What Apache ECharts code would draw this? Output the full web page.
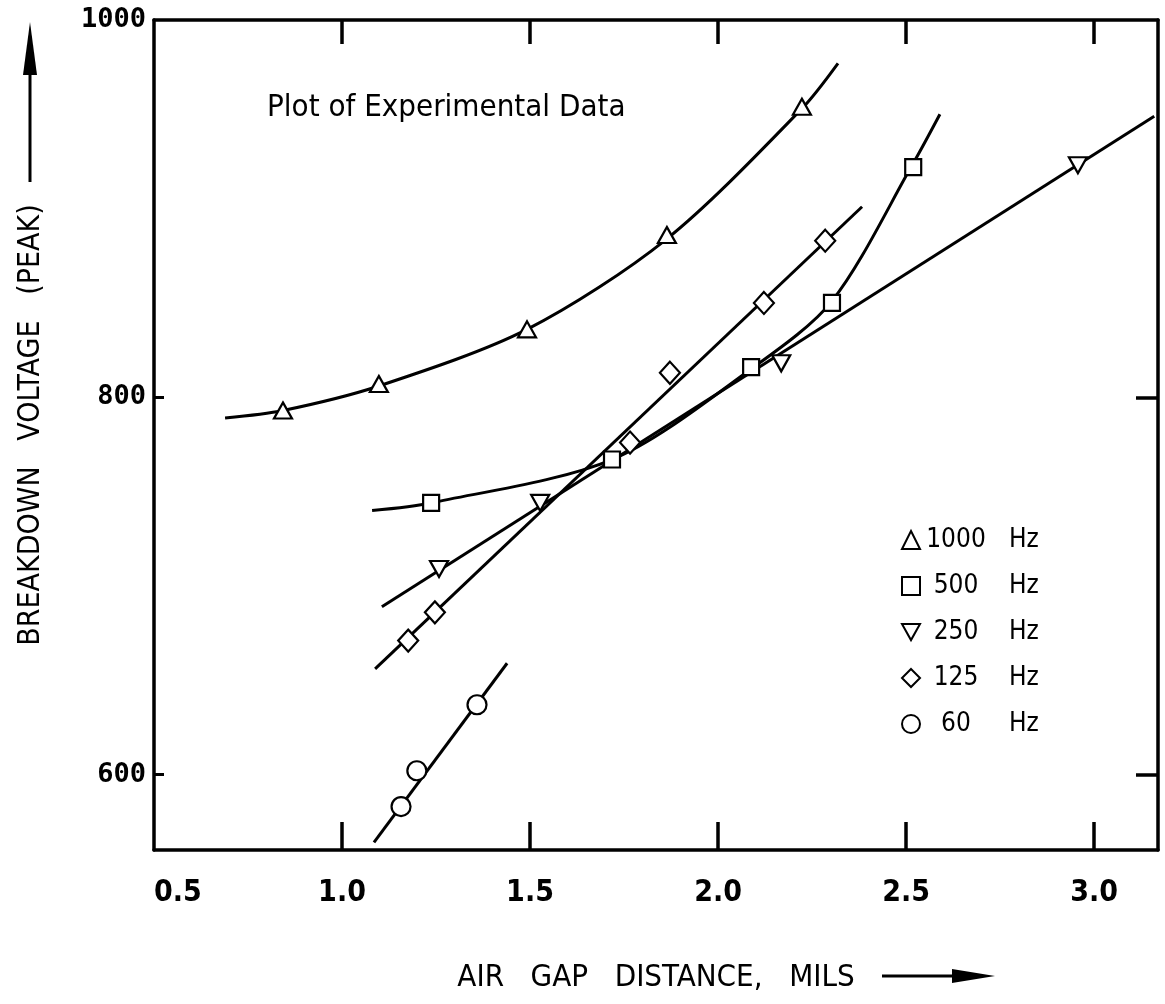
<!DOCTYPE html>
<html>
<head>
<meta charset="utf-8">
<title>Breakdown voltage vs air gap</title>
<script src="https://cdn.jsdelivr.net/npm/echarts@6/dist/echarts.min.js"></script>
<style>
  html, body { margin: 0; padding: 0; background: #fff; }
  #chart { width: 1165px; height: 1004px; }
</style>
</head>
<body>
<div id="chart"></div>
<script>
// axis ticks and labels
const xLabelValues = [0.5, 1.0, 1.5, 2.0, 2.5, 3.0]
const xTickValues = [1.0, 1.5, 2.0, 2.5, 3.0]
const yLabelValues = [600, 800, 1000]
const yTickValues = [600, 800]

// measured points: [air gap (mils), breakdown voltage (peak)]
const hz1000 = [[0.843, 793], [1.098, 807], [1.492, 836], [1.864, 886], [2.223, 954]]
const hz500 = [[1.237, 744], [1.718, 767], [2.088, 816], [2.303, 850], [2.519, 922]]
const hz250 = [[1.258, 709], [1.527, 744], [2.168, 818], [2.957, 923]]
const hz125 = [[1.176, 671], [1.247, 686], [1.766, 776], [1.872, 813], [2.122, 850], [2.285, 883]]
const hz60 = [[1.157, 583], [1.199, 602], [1.359, 637]]

// hand drawn fit lines
const fit1000 = [[0.689, 789], [0.843, 793], [1.098, 806], [1.492, 836], [1.864, 884], [2.223, 953], [2.319, 977]]
const fit500 = [[1.080, 740], [1.237, 744], [1.718, 767], [2.088, 815], [2.303, 851], [2.519, 924], [2.590, 950]]
const fit250 = [[1.106, 689], [3.160, 949]]
const fit125 = [[1.088, 656], [2.383, 901]]
const fit60 = [[1.085, 564], [1.439, 659]]

const NARROW = "'Liberation Sans Narrow', 'DejaVu Sans Condensed', 'Noto Sans', sans-serif"
const DOWN_TRI = 'path://M0,0 L10,0 L5,9 Z'

const chart = echarts.init(document.getElementById('chart'), null, { renderer: 'canvas' })

const marker = (name, data, symbol, size) => ({
  name,
  type: 'scatter',
  data,
  symbol,
  symbolSize: size,
  z: 5,
  itemStyle: { color: '#fff', borderColor: '#000', borderWidth: 2.2, opacity: 1 }
})

const fit = (name, data, smooth) => ({
  name,
  type: 'line',
  data,
  smooth: smooth ? 0.3 : false,
  showSymbol: false,
  silent: true,
  z: 2,
  lineStyle: { color: '#000', width: 3 }
})

const frameLine = { show: true, onZero: false, lineStyle: { color: '#000', width: 3.5 } }

const option = {
  backgroundColor: '#fff',
  animation: false,
  title: {
    text: 'Plot of Experimental Data',
    left: 262,
    top: 87,
    textStyle: { fontFamily: NARROW, fontSize: 31, fontWeight: 'normal', color: '#000' }
  },
  grid: { left: 154, right: 7, top: 20, bottom: 154 },
  legend: {
    data: ['1000 Hz', '500 Hz', '250 Hz', '125 Hz', '60 Hz'],
    orient: 'vertical',
    left: 896,
    top: 522,
    itemWidth: 18,
    itemHeight: 18,
    itemGap: 20,
    formatter: name => {
      const [n, u] = name.split(' ')
      return '{n|' + n + '}{u|' + u + '}'
    },
    textStyle: {
      fontFamily: NARROW,
      fontSize: 26,
      color: '#000',
      rich: {
        n: { width: 62, align: 'right', fontFamily: NARROW, fontSize: 26, color: '#000' },
        u: { padding: [0, 0, 0, 22], fontFamily: NARROW, fontSize: 26, color: '#000' }
      }
    }
  },
  xAxis: [
    {
      type: 'value',
      min: 0.5,
      max: 3.17,
      name: 'AIR   GAP   DISTANCE,   MILS',
      nameLocation: 'middle',
      nameGap: 112,
      nameTextStyle: { fontFamily: NARROW, fontSize: 31, color: '#000' },
      axisLine: frameLine,
      axisTick: { show: true, inside: true, length: 28, customValues: xTickValues, lineStyle: { color: '#000', width: 3.5 } },
      axisLabel: {
        customValues: xLabelValues,
        formatter: v => v.toFixed(1),
        margin: 28,
        alignMinLabel: 'left',
        fontFamily: NARROW,
        fontSize: 30,
        fontWeight: 'bold',
        color: '#000'
      },
      splitLine: { show: false }
    },
    {
      type: 'value',
      position: 'top',
      min: 0.5,
      max: 3.17,
      axisLine: frameLine,
      axisTick: { show: true, inside: true, length: 24, customValues: xTickValues, lineStyle: { color: '#000', width: 3.5 } },
      axisLabel: { show: false },
      splitLine: { show: false }
    }
  ],
  yAxis: [
    {
      type: 'value',
      min: 560,
      max: 1000,
      name: 'BREAKDOWN   VOLTAGE   (PEAK)',
      nameLocation: 'middle',
      nameGap: 108,
      nameRotate: 90,
      nameTextStyle: { fontFamily: NARROW, fontSize: 30, color: '#000', padding: [0, 0, 0, 20] },
      axisLine: frameLine,
      axisTick: { show: true, inside: true, length: 10, customValues: yTickValues, lineStyle: { color: '#000', width: 3 } },
      axisLabel: {
        customValues: yLabelValues,
        formatter: v => String(v),
        margin: 8,
        fontFamily: "'DejaVu Sans Mono', monospace",
        fontSize: 27,
        fontWeight: 'bold',
        color: '#000'
      },
      splitLine: { show: false }
    },
    {
      type: 'value',
      position: 'right',
      min: 560,
      max: 1000,
      axisLine: frameLine,
      axisTick: { show: true, inside: true, length: 22, customValues: yTickValues, lineStyle: { color: '#000', width: 3.5 } },
      axisLabel: { show: false },
      splitLine: { show: false }
    }
  ],
  series: [
    fit('fit 1000', fit1000, true),
    fit('fit 500', fit500, true),
    fit('fit 250', fit250, false),
    fit('fit 125', fit125, false),
    fit('fit 60', fit60, false),
    marker('1000 Hz', hz1000, 'triangle', [18, 16]),
    marker('500 Hz', hz500, 'rect', 16),
    marker('250 Hz', hz250, DOWN_TRI, [18, 16]),
    marker('125 Hz', hz125, 'diamond', [20, 22]),
    marker('60 Hz', hz60, 'circle', 19)
  ],
  graphic: [
    // arrow after the x axis title
    { type: 'line', shape: { x1: 882, y1: 976, x2: 965, y2: 976 }, style: { stroke: '#000', lineWidth: 3 } },
    { type: 'polygon', shape: { points: [[952, 969], [995, 976], [952, 983]] }, style: { fill: '#000' } },
    // arrow above the y axis title
    { type: 'line', shape: { x1: 30, y1: 182, x2: 30, y2: 60 }, style: { stroke: '#000', lineWidth: 3 } },
    { type: 'polygon', shape: { points: [[23, 75], [30, 22], [37, 75]] }, style: { fill: '#000' } }
  ]
}

chart.setOption(option)
</script>
</body>
</html>
